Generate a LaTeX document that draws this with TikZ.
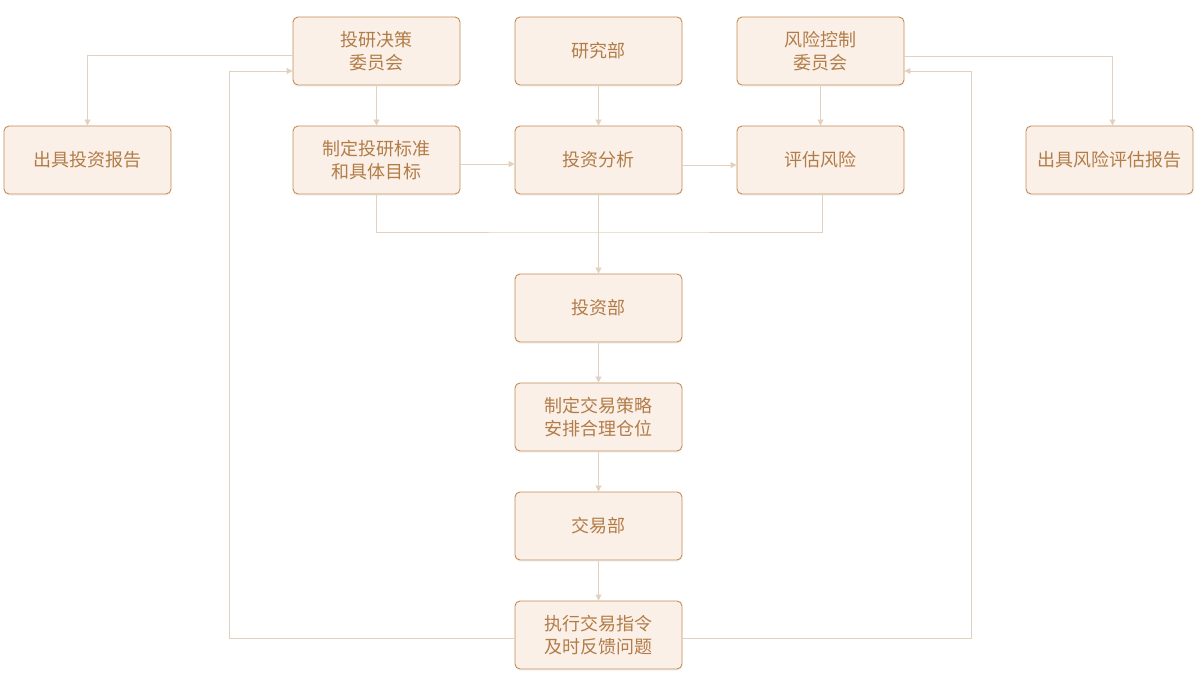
\documentclass[tikz,border=0pt]{standalone}
\usepackage{fontspec}
\newfontfamily\cjk{Noto Sans CJK SC}
\usepackage{tikz}
\usetikzlibrary{shadows}
\usetikzlibrary{positioning}
\usetikzlibrary{arrows.meta,shapes}
\usetikzlibrary{calc}
\definecolor{boxfill}{HTML}{FBF0E8}
\definecolor{boxline}{HTML}{C38B55}
\definecolor{boxtext}{HTML}{B27C47}
\definecolor{linkline}{HTML}{E2D1BE}
\tikzstyle{stagebox}=[rectangle,rounded corners=5pt,fill=boxfill,draw=boxline,line width=0.9pt,minimum width=167pt,minimum height=68pt,inner sep=0pt,align=center,text=boxtext,font=\cjk\fontsize{18}{23}\selectfont,drop shadow={opacity=0.07,shadow xshift=0pt,shadow yshift=-2pt}]
\tikzstyle{edge} = [draw,line width=0.9pt,linkline,-{Triangle[length=6pt,width=6pt]}]
\tikzstyle{undirectededge} = [draw,line width=0.9pt,linkline]

\begin{document}
\begin{tikzpicture}[x=1pt,y=-1pt]
    \useasboundingbox (0,0) rectangle (1200,700);
    % First we draw the boxes
    \foreach \pos/\name/\label in {{(376.5,51)/tyjc/{投研决策\\委员会}}, {(598.5,51)/yjb/研究部}, {(820.5,51)/fkwy/{风险控制\\委员会}},
        {(87.5,160)/tzbg/出具投资报告}, {(376.5,160)/zdbz/{制定投研标准\\和具体目标}}, {(598.5,160)/tzfx/投资分析},
        {(820.5,160)/pgfx/评估风险}, {(1109.5,160)/fxbg/出具风险评估报告},
        {(598.5,308)/tzb/投资部}, {(598.5,417)/jycl/{制定交易策略\\安排合理仓位}}, {(598.5,526)/jyb/交易部},
        {(598.5,635)/zxzl/{执行交易指令\\及时反馈问题}}}
        \node[stagebox] (\name) at \pos {\label};

    % Connect boxes with straight arrows
    \foreach \source/ \dest in {tyjc/zdbz, yjb/tzfx, fkwy/pgfx, tzfx/tzb, tzb/jycl, jycl/jyb, jyb/zxzl}
        \path[edge] (\source.south) -- (\dest.north);
    \path[edge] ([yshift=-4pt]zdbz.east) -- ([yshift=-4pt]tzfx.west);
    \path[edge] ([yshift=-5pt]tzfx.east) -- ([yshift=-5pt]pgfx.west);

    % Reports and the feedback loops
    \path[edge] ([yshift=-4pt]tyjc.west) -| (tzbg.north);
    \path[edge] ([yshift=-5pt]fkwy.east) -| ([xshift=3pt]fxbg.north);
    \coordinate (join) at (598.5,232);
    \path[undirectededge] (zdbz.south) |- (join) -| ([xshift=2pt]pgfx.south);
    \coordinate (leftloop) at (229,638);
    \coordinate (rightloop) at (971,638);
    \path[edge] ([yshift=-3pt]zxzl.west) -- (leftloop) |- ([yshift=-20pt]tyjc.west);
    \path[edge] ([yshift=-3pt]zxzl.east) -- (rightloop) |- ([yshift=-20pt]fkwy.east);
\end{tikzpicture}
\end{document}
